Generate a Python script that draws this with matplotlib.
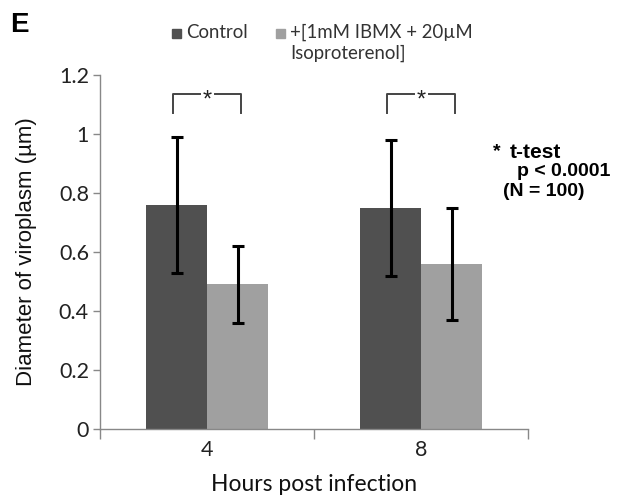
import matplotlib
matplotlib.use("Agg")
import matplotlib.pyplot as plt
from matplotlib.patches import Rectangle

# data
hours = ["4", "8"]
control = [0.76, 0.75]
control_err = [0.23, 0.23]
treated = [0.49, 0.56]
treated_err = [0.13, 0.19]
legend_labels = ["Control", "+[1mM IBMX + 20\u00b5M\nIsoproterenol]"]
colors = ["#505050", "#a0a0a0"]

fig = plt.figure(figsize=(6.19, 4.99), dpi=100)
ax = fig.add_axes([0.1616, 0.1403, 0.6914, 0.7094])

w = 0.285
x = range(len(hours))
xc = [i - w / 2 for i in x]
xt = [i + w / 2 for i in x]
ax.bar(xc, control, width=w, color=colors[0], zorder=2)
ax.bar(xt, treated, width=w, color=colors[1], zorder=2)
ax.errorbar(xc, control, yerr=control_err, fmt="none", ecolor="black",
            elinewidth=2.2, capsize=4.5, capthick=2.2, zorder=3)
ax.errorbar(xt, treated, yerr=treated_err, fmt="none", ecolor="black",
            elinewidth=2.2, capsize=4.5, capthick=2.2, zorder=3)

ax.set_xlim(-0.5, len(hours) - 0.5)
ax.set_ylim(0, 1.2)
ax.set_yticks([0, 0.2, 0.4, 0.6, 0.8, 1.0, 1.2])
ax.set_yticklabels(["0", "0.2", "0.4", "0.6", "0.8", "1", "1.2"])
ax.set_xticks(list(x))
ax.set_xticklabels(hours)
ax.set_xticks([-0.5, 0.5, 1.5], minor=True)
ax.tick_params(axis="x", which="major", length=0, pad=8, labelsize=15.5)
ax.tick_params(axis="x", which="minor", length=7, color="#888888", width=1)
ax.tick_params(axis="y", length=5, color="#888888", width=1, labelsize=15.5, pad=3)
for lab in ax.get_xticklabels() + ax.get_yticklabels():
    lab.set_fontfamily("Lato")
    lab.set_color("#222222")
for s in ["top", "right"]:
    ax.spines[s].set_visible(False)
for s in ["left", "bottom"]:
    ax.spines[s].set_color("#888888")
    ax.spines[s].set_linewidth(1)

ax.set_xlabel("Hours post infection", fontfamily="Lato", fontsize=16.5, labelpad=10,
              color="#111111")
ax.set_ylabel("Diameter of viroplasm (\u00b5m)", fontfamily="Liberation Sans",
              fontsize=16, labelpad=16, color="#111111")

# significance brackets
for i in x:
    x0, x1 = i - 0.16, i + 0.16
    y0, y1 = 1.07, 1.135
    ax.plot([x0, x0, i - 0.035], [y0, y1, y1], color="#444444", lw=1.4,
            clip_on=False)
    ax.plot([i + 0.035, x1, x1], [y1, y1, y0], color="#444444", lw=1.4,
            clip_on=False)
    ax.text(i, y1 - 0.022, "*", ha="center", va="center", fontsize=17,
            fontfamily="Liberation Sans", color="#222222")

# legend drawn by hand
fig.add_artist(Rectangle((172 / 619, 1 - 38 / 499), 9 / 619, 9 / 499,
                         transform=fig.transFigure, color=colors[0]))
fig.text(186 / 619, 1 - 33 / 499, legend_labels[0], fontfamily="Lato",
         fontsize=13.4, va="center", color="#333333")
fig.add_artist(Rectangle((276 / 619, 1 - 38 / 499), 9 / 619, 9 / 499,
                         transform=fig.transFigure, color=colors[1]))
fig.text(290 / 619, 1 - 24 / 499, legend_labels[1], fontfamily="Lato",
         fontsize=13.4, va="top", color="#333333", linespacing=1.2)

fig.text(10 / 619, 1 - 25 / 499, "E", fontfamily="Liberation Sans",
         fontweight="bold", fontsize=20, va="center")

# stats note
fig.text(493 / 619, 1 - 152 / 499, "*", fontfamily="Liberation Sans",
         fontweight="bold", fontsize=14, va="center")
fig.text(510 / 619, 1 - 153 / 499, "t-test", fontfamily="Liberation Sans",
         fontweight="bold", fontsize=15, va="center")
fig.text(517 / 619, 1 - 172 / 499, "p < 0.0001", fontfamily="Liberation Sans",
         fontweight="bold", fontsize=14, va="center")
fig.text(503 / 619, 1 - 191 / 499, "(N = 100)", fontfamily="Liberation Sans",
         fontweight="bold", fontsize=14, va="center")

fig.savefig("out.png", dpi=100)
